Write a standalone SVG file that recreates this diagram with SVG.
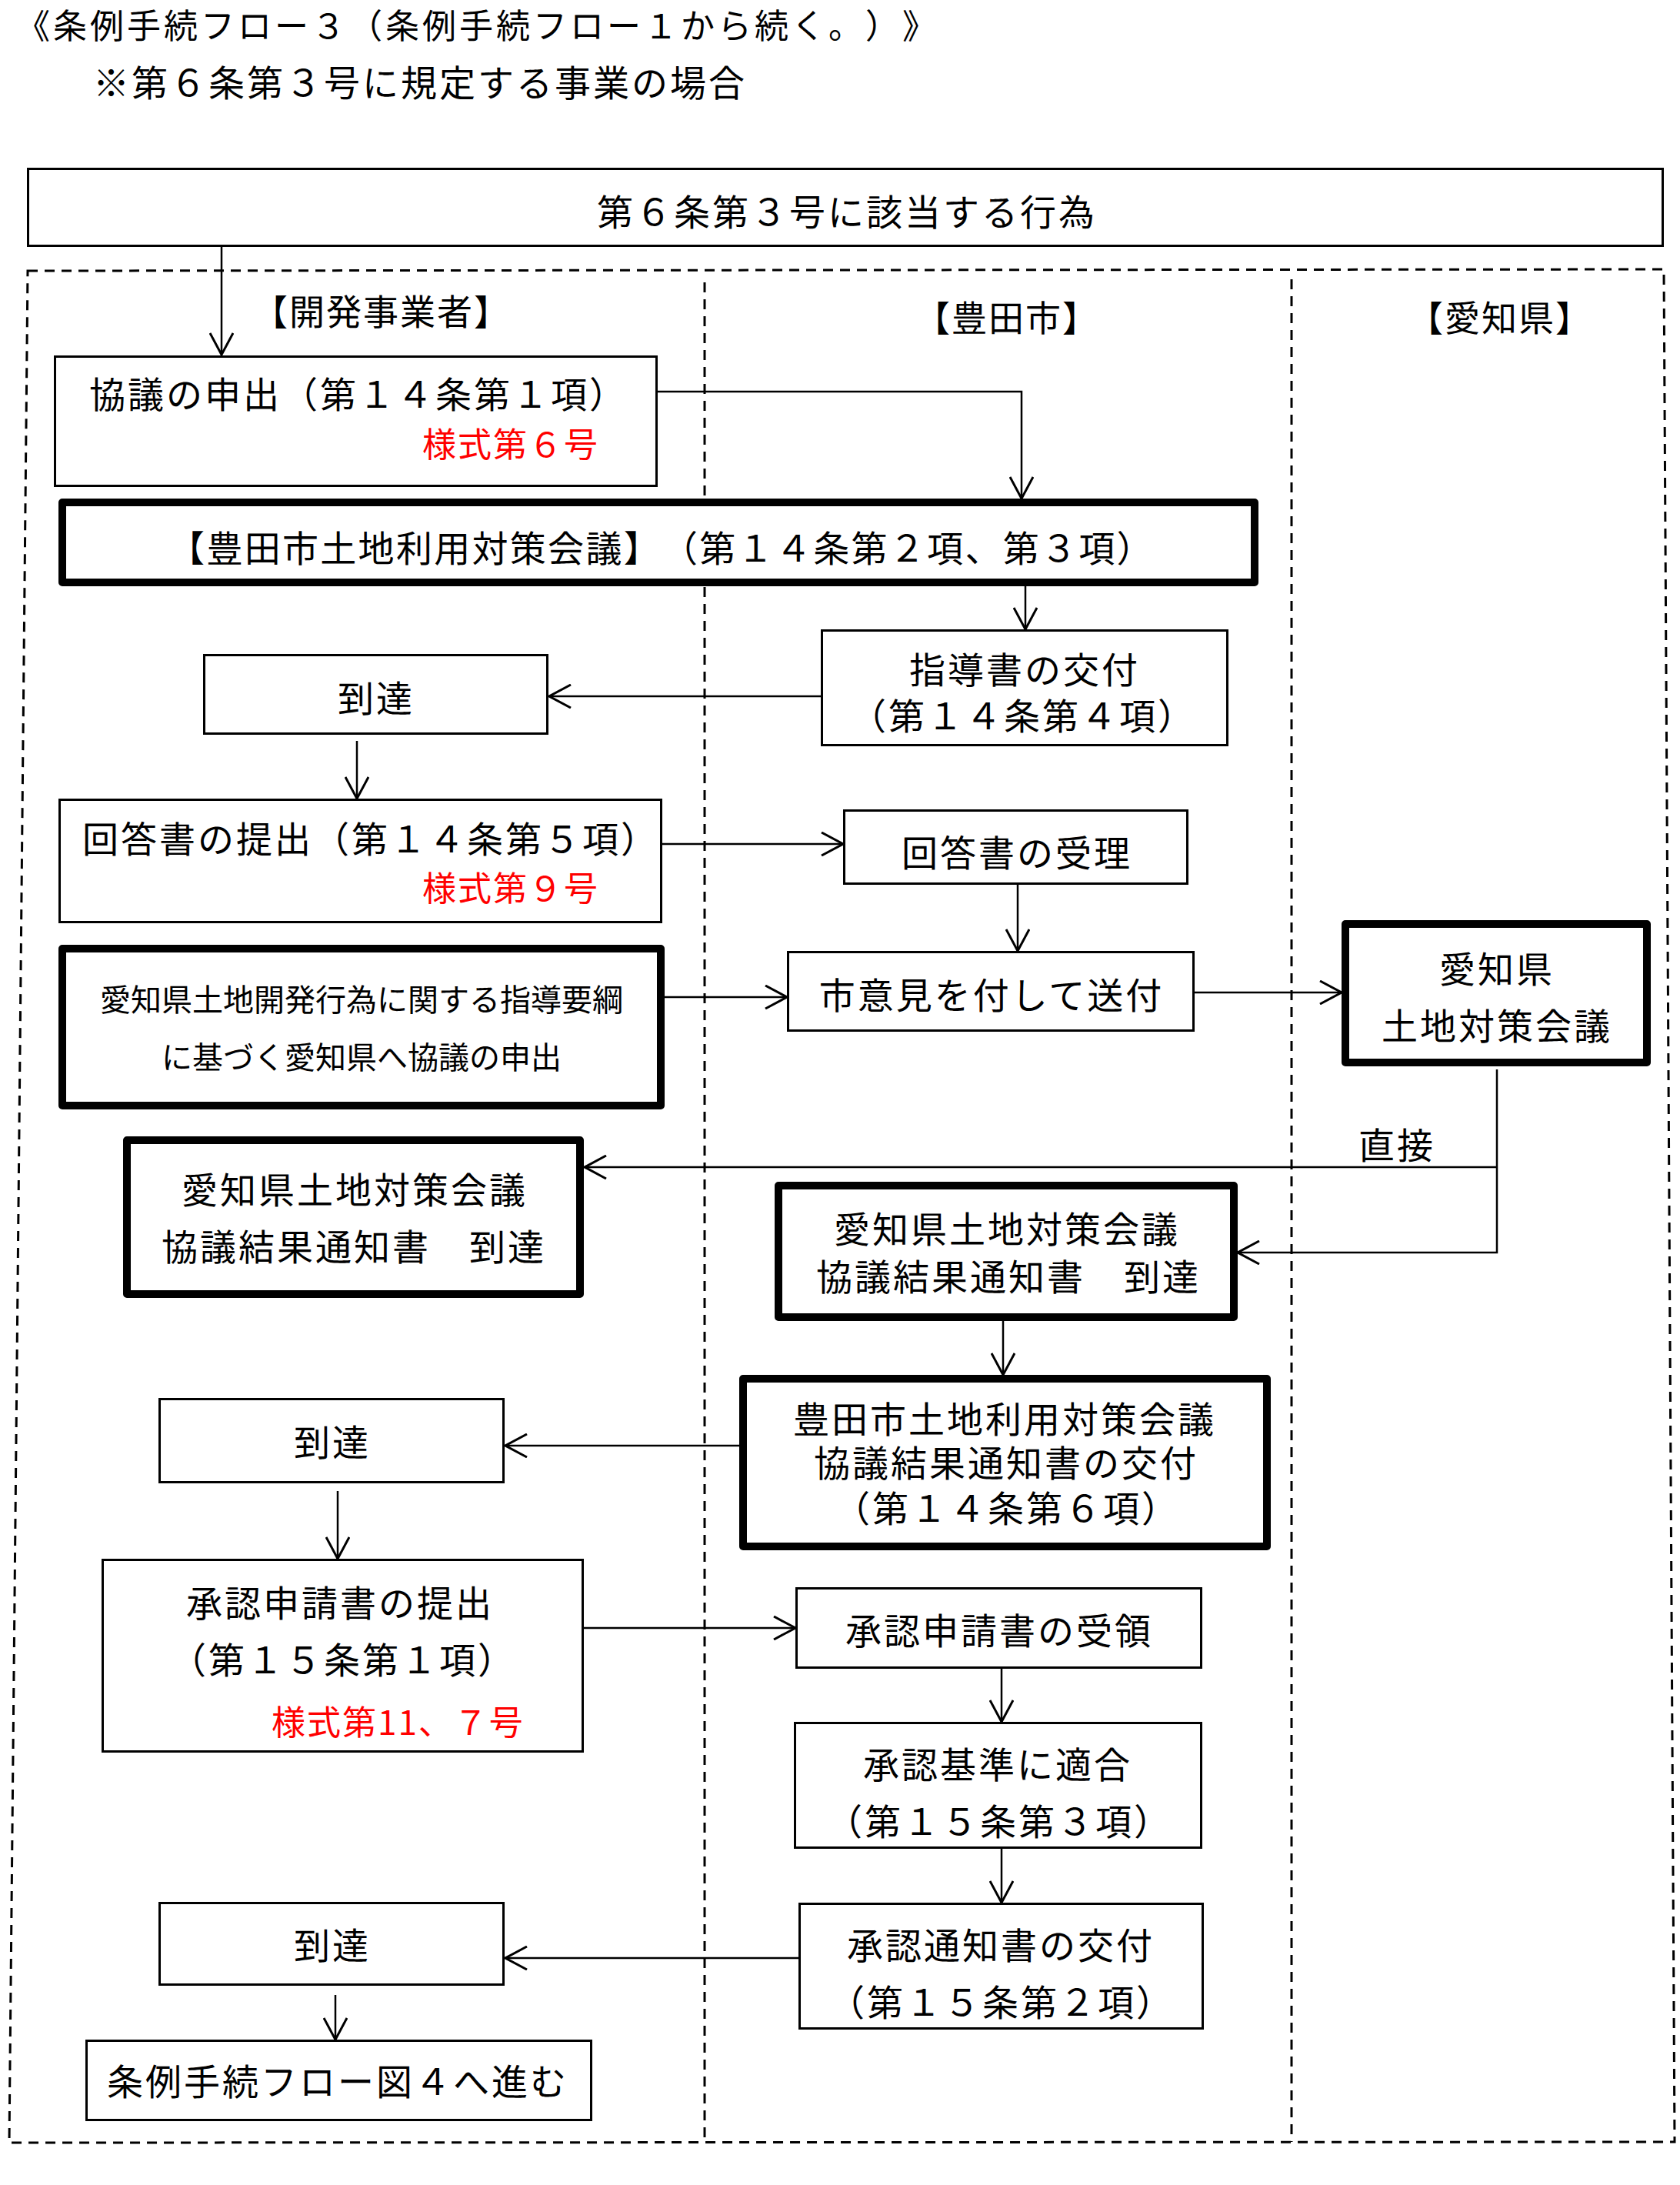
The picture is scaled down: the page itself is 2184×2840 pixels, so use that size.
<svg xmlns="http://www.w3.org/2000/svg" width="2184" height="2840" viewBox="0 0 2184 2840">
<style>
.t{font-family:"Noto Sans CJK JP","Noto Sans CJK SC",sans-serif;font-size:47px;letter-spacing:3px;fill:#000;text-spacing-trim:space-all;font-feature-settings:"palt" 0}
.m{text-anchor:middle}
.r{fill:#f00;font-size:44px;letter-spacing:2px}
.s{font-size:40px;letter-spacing:0px}
.h{font-size:46px;letter-spacing:2px}
.box{fill:#fff;stroke:#000;stroke-width:3}
.thick{fill:#fff;stroke:#000;stroke-width:10;stroke-linejoin:round}
.lane{fill:none;stroke:#000;stroke-width:3;stroke-dasharray:13 9}
.c{fill:none;stroke:#000;stroke-width:2.5}
.ca{fill:none;stroke:#000;stroke-width:2.5;marker-end:url(#arr)}
</style>
<defs>
<marker id="arr" markerUnits="userSpaceOnUse" viewBox="0 0 30 32" refX="29" refY="16" markerWidth="30" markerHeight="32" orient="auto">
<path d="M1,1 L29,16 L1,31" fill="none" stroke="#000" stroke-width="3"/>
</marker>
</defs>
<rect width="2184" height="2840" fill="#fff"/>
<g id="title">
<text class="t" x="21" y="50" style="font-size:44px;letter-spacing:4px">《条例手続フロー３（条例手続フロー１から続く。）》</text>
<text class="t" x="121" y="125">※第６条第３号に規定する事業の場合</text>
</g>
<g id="lanes">
<path class="lane" d="M36,352 L2163,350 L2177,2784 L12,2785 Z"/>
<line class="lane" x1="916" y1="367" x2="916" y2="2784"/>
<line class="lane" x1="1679" y1="363" x2="1679" y2="2784"/>
<text class="t h m" x="496" y="422">【開発事業者】</text>
<text class="t h m" x="1309" y="430">【豊田市】</text>
<text class="t h m" x="1950" y="430">【愛知県】</text>
</g>
<g id="n-top">
<rect class="box" x="36.5" y="219.5" width="2125" height="100"/>
<text class="t m" x="1101" y="293">第６条第３号に該当する行為</text>
</g>
<g id="connectors">
<line class="ca" x1="288" y1="321" x2="288" y2="461"/>
<polyline class="ca" points="855,509 1328,509 1328,648"/>
<line class="ca" x1="1333" y1="762" x2="1333" y2="818"/>
<line class="ca" x1="1067" y1="905" x2="714" y2="905"/>
<line class="ca" x1="464" y1="963" x2="464" y2="1038"/>
<line class="ca" x1="861" y1="1097" x2="1096" y2="1097"/>
<line class="ca" x1="1323" y1="1150" x2="1323" y2="1236"/>
<line class="ca" x1="864" y1="1296" x2="1023" y2="1296"/>
<line class="ca" x1="1553" y1="1290" x2="1744" y2="1290"/>
<polyline class="ca" points="1946,1390 1946,1628 1609,1628"/>
<line class="ca" x1="1946" y1="1517" x2="760" y2="1517"/>
<line class="ca" x1="1304" y1="1717" x2="1304" y2="1787"/>
<line class="ca" x1="961" y1="1879" x2="657" y2="1879"/>
<line class="ca" x1="439" y1="1938" x2="439" y2="2026"/>
<line class="ca" x1="759" y1="2116" x2="1034" y2="2116"/>
<line class="ca" x1="1302" y1="2169" x2="1302" y2="2238"/>
<line class="ca" x1="1302" y1="2403" x2="1302" y2="2473"/>
<line class="ca" x1="1038" y1="2545" x2="657" y2="2545"/>
<line class="ca" x1="436" y1="2593" x2="436" y2="2651"/>
<text class="t m" x="1816" y="1506">直接</text>
</g>
<g id="n-kyogi">
<rect class="box" x="71.5" y="463.5" width="782" height="168"/>
<text class="t" x="116" y="530">協議の申出（第１４条第１項）</text>
<text class="t r" x="549" y="594">様式第６号</text>
</g>
<g id="n-toyota-kaigi">
<rect class="thick" x="81" y="653" width="1550" height="104"/>
<text class="t m" x="860" y="730" style="letter-spacing:2.3px">【豊田市土地利用対策会議】（第１４条第２項、第３項）</text>
</g>
<g id="n-shidosho">
<rect class="box" x="1068.5" y="819.5" width="527" height="149"/>
<text class="t m" x="1332" y="888">指導書の交付</text>
<text class="t m" x="1330" y="948">（第１４条第４項）</text>
</g>
<g id="n-totatsu1">
<rect class="box" x="265.5" y="851.5" width="446" height="102"/>
<text class="t m" x="489" y="925">到達</text>
</g>
<g id="n-kaitou-teishutsu">
<rect class="box" x="77.5" y="1039.5" width="782" height="159"/>
<text class="t" x="107" y="1108">回答書の提出（第１４条第５項）</text>
<text class="t r" x="549" y="1171">様式第９号</text>
</g>
<g id="n-kaitou-juri">
<rect class="box" x="1097.5" y="1053.5" width="446" height="95"/>
<text class="t m" x="1322" y="1126">回答書の受理</text>
</g>
<g id="n-youkou">
<rect class="thick" x="81" y="1233" width="778" height="204"/>
<text class="t s m" x="470" y="1314">愛知県土地開発行為に関する指導要綱</text>
<text class="t s m" x="470" y="1389">に基づく愛知県へ協議の申出</text>
</g>
<g id="n-iken">
<rect class="box" x="1024.5" y="1237.5" width="527" height="102"/>
<text class="t m" x="1289" y="1311">市意見を付して送付</text>
</g>
<g id="n-aichi-kaigi">
<rect class="thick" x="1749" y="1201" width="392" height="180"/>
<text class="t m" x="1946" y="1277">愛知県</text>
<text class="t m" x="1946" y="1351">土地対策会議</text>
</g>
<g id="n-kekka-left">
<rect class="thick" x="165" y="1482" width="589" height="200"/>
<text class="t m" x="461" y="1564">愛知県土地対策会議</text>
<text class="t m" x="460" y="1638">協議結果通知書　到達</text>
</g>
<g id="n-kekka-center">
<rect class="thick" x="1012" y="1541" width="592" height="171"/>
<text class="t m" x="1309" y="1615">愛知県土地対策会議</text>
<text class="t m" x="1311" y="1677">協議結果通知書　到達</text>
</g>
<g id="n-toyota-kofu">
<rect class="thick" x="966" y="1792" width="681" height="218"/>
<text class="t m" x="1306" y="1862">豊田市土地利用対策会議</text>
<text class="t m" x="1308" y="1919">協議結果通知書の交付</text>
<text class="t m" x="1309" y="1978">（第１４条第６項）</text>
</g>
<g id="n-totatsu2">
<rect class="box" x="207.5" y="1818.5" width="447" height="108"/>
<text class="t m" x="432" y="1892">到達</text>
</g>
<g id="n-shounin-teishutsu">
<rect class="box" x="133.5" y="2027.5" width="624" height="249"/>
<text class="t m" x="442" y="2101">承認申請書の提出</text>
<text class="t m" x="446" y="2175">（第１５条第１項）</text>
<text class="t r" x="353" y="2255">様式第11、７号</text>
</g>
<g id="n-shounin-juryo">
<rect class="box" x="1035.5" y="2064.5" width="526" height="103"/>
<text class="t m" x="1299" y="2137">承認申請書の受領</text>
</g>
<g id="n-kijun">
<rect class="box" x="1033.5" y="2239.5" width="528" height="162"/>
<text class="t m" x="1297" y="2311">承認基準に適合</text>
<text class="t m" x="1299" y="2385">（第１５条第３項）</text>
</g>
<g id="n-tsuchi">
<rect class="box" x="1039.5" y="2474.5" width="524" height="162"/>
<text class="t m" x="1301" y="2546">承認通知書の交付</text>
<text class="t m" x="1302" y="2620">（第１５条第２項）</text>
</g>
<g id="n-totatsu3">
<rect class="box" x="207.5" y="2473.5" width="447" height="106"/>
<text class="t m" x="432" y="2546">到達</text>
</g>
<g id="n-next">
<rect class="box" x="112.5" y="2652.5" width="656" height="103"/>
<text class="t m" x="439" y="2723">条例手続フロー図４へ進む</text>
</g>
</svg>
